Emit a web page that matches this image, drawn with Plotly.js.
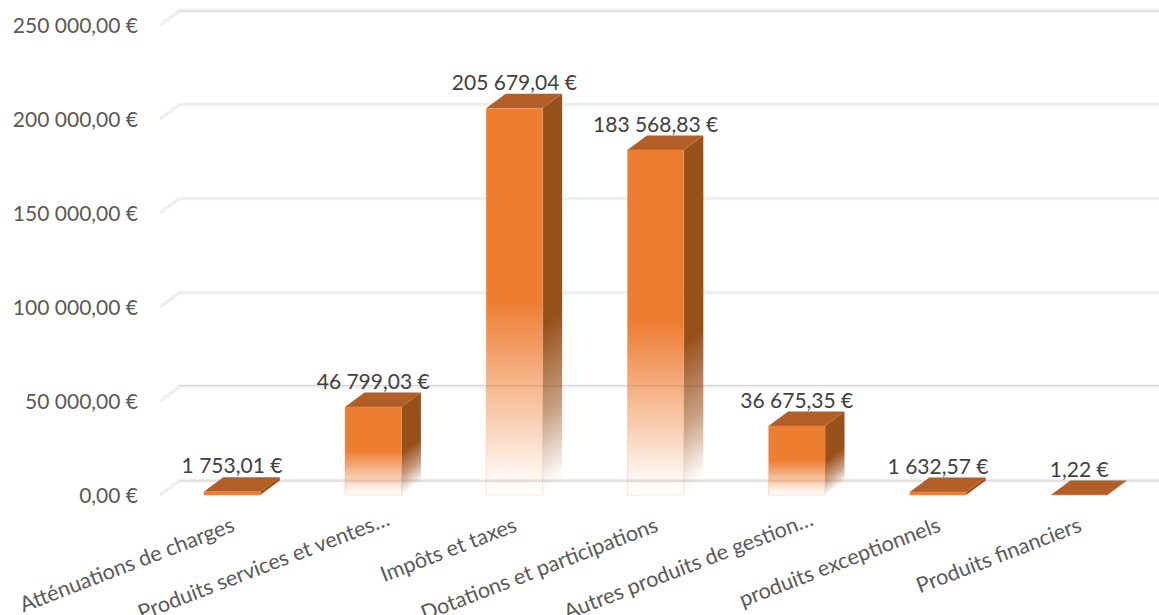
<!DOCTYPE html>
<html><head><meta charset="utf-8">
<script src="https://cdn.plot.ly/plotly-3.0.1.min.js"></script>
<style>html,body{margin:0;padding:0;background:#fff}#c{width:1159px;height:615px}</style>
</head><body><div id="c"></div>
<script>
const categories = ["Atténuations de charges","Produits services et ventes…","Impôts et taxes","Dotations et participations","Autres produits de gestion…","produits exceptionnels","Produits financiers"];
const values = [1753.01,46799.03,205679.04,183568.83,36675.35,1632.57,1.22];
const tickValues = [0,50000,100000,150000,200000,250000];
const tickLabels = ["0,00 €","50 000,00 €","100 000,00 €","150 000,00 €","200 000,00 €","250 000,00 €"];
const gridDarkOffsetPx = [0.5,-1,null,null,null,0.5];

const PX_PER_CAT = 141.2, PX_PER_UNIT = 94/50000, DEPTH_X = 19.5, DEPTH_Y = 14.5;
const DX = DEPTH_X/PX_PER_CAT, DY = DEPTH_Y/PX_PER_UNIT, HALF = 0.2;
const xLeft = -72/PX_PER_CAT, xRight = 927/PX_PER_CAT;
const f = v => v.toFixed(3);
const poly = pts => 'M' + pts.map(p => f(p[0]) + ',' + f(p[1])).join(' L') + ' Z';
const line = pts => 'M' + pts.map(p => f(p[0]) + ',' + f(p[1])).join(' L');

const shapes = [];
tickValues.forEach(t => {
  shapes.push({type:'path',path:line([[xLeft,t],[xLeft+DX,t+DY],[xRight,t+DY]]),xref:'x',yref:'y',layer:'below',line:{color:'#efefef',width:3.5}});
});
tickValues.forEach((t,i) => {
  if (gridDarkOffsetPx[i] === null) return;
  const y = t + DY - gridDarkOffsetPx[i]/PX_PER_UNIT;
  shapes.push({type:'path',path:line([[xLeft+DX,y],[xRight,y]]),xref:'x',yref:'y',layer:'below',line:{color:'#d4d4d4',width:1.2}});
});
const sideStart = shapes.length;
values.forEach((v,i) => {
  shapes.push({type:'path',layer:'below',xref:'x',yref:'y',line:{width:0},fillcolor:'#99511c',
    path:poly([[i+HALF,0],[i+HALF+DX,DY],[i+HALF+DX,v+DY],[i+HALF,v]])});
  shapes.push({type:'path',layer:'below',xref:'x',yref:'y',line:{width:0},fillcolor:'#b25e26',
    path:poly([[i-HALF,v],[i+HALF,v],[i+HALF+DX,v+DY],[i-HALF+DX,v+DY]])});
});

const data = [
 {type:'bar',x:categories,y:values,marker:{color:'#ed7d31',line:{color:'rgba(240,165,115,0.3)',width:1}},hoverinfo:'skip',cliponaxis:false},
 {type:'scatter',mode:'text',x:categories,y:values.map(v=>v+DY-1.5/PX_PER_UNIT),customdata:values,
  texttemplate:'%{customdata:,.2f} €',textposition:'top center',cliponaxis:false,hoverinfo:'skip',
  textfont:{family:'Lato, Carlito, sans-serif',size:21,color:'#404040'}}
];
const layout = {
  width:1159,height:615,showlegend:false,paper_bgcolor:'#fff',plot_bgcolor:'rgba(0,0,0,0)',
  separators:', ',bargap:0.6,shapes:shapes,
  margin:{l:160,r:0,t:0,b:118,pad:0},
  font:{family:'Lato, Carlito, sans-serif',color:'#595959',size:21},
  xaxis:{type:'category',categories:categories,range:[xLeft,xRight],tickangle:-21,showgrid:false,zeroline:false,showline:false,ticks:'',ticklabelstandoff:12,tickfont:{size:21.5,color:'#595959'},automargin:false},
  yaxis:{range:[-2/PX_PER_UNIT,495/PX_PER_UNIT],tickmode:'array',tickvals:tickValues,ticktext:tickLabels,showgrid:false,zeroline:false,showline:false,ticks:'',ticklabelstandoff:21,ticklabelshift:1,tickfont:{size:21,color:'#595959'},automargin:false}
};
Plotly.newPlot('c',data,layout,{displayModeBar:false,staticPlot:true}).then(gd => {
  const svg = gd.querySelector('svg.main-svg');
  const ns = 'http://www.w3.org/2000/svg';
  const defs = document.createElementNS(ns,'defs');
  const mk = (id,color,x2,stops) => {
    const g = document.createElementNS(ns,'linearGradient');
    g.setAttribute('id',id);g.setAttribute('x1','0');g.setAttribute('x2',x2);g.setAttribute('y1','0');g.setAttribute('y2','1');
    stops.forEach(s => {
      const st = document.createElementNS(ns,'stop');
      st.setAttribute('offset',s[0]);st.setAttribute('stop-color',color);st.setAttribute('stop-opacity',s[1]);g.appendChild(st);
    });
    defs.appendChild(g);
  };
  mk('fadeFront','#ed7d31',0,[[0,1],[0.5,1],[0.96,0.05],[1,0]]);
  values.forEach((v,i) => {
    const h = v*PX_PER_UNIT + DEPTH_Y;
    mk('fadeSide'+i,'#99511c',DEPTH_Y/h,[[0,1],[0.58,1],[0.8,0.55],[0.97,0.04],[1,0]]);
  });
  svg.appendChild(defs);
  gd.querySelectorAll('.bars .point path').forEach((p,i) => {
    if (values[i] > 5000) p.style.fill = 'url(#fadeFront)';
  });
  gd.querySelectorAll('.shapelayer path[data-index]').forEach(p => {
    const idx = +p.getAttribute('data-index') - sideStart;
    if (idx >= 0 && idx % 2 === 0 && values[idx/2] > 5000) p.style.fill = 'url(#fadeSide'+(idx/2)+')';
  });
  gd.querySelectorAll('.xtick text').forEach(t => {
    if (t.textContent.endsWith('…')) {
      t.setAttribute('transform','translate(14,-6) ' + (t.getAttribute('transform') || ''));
    }
  });
});
</script></body></html>
